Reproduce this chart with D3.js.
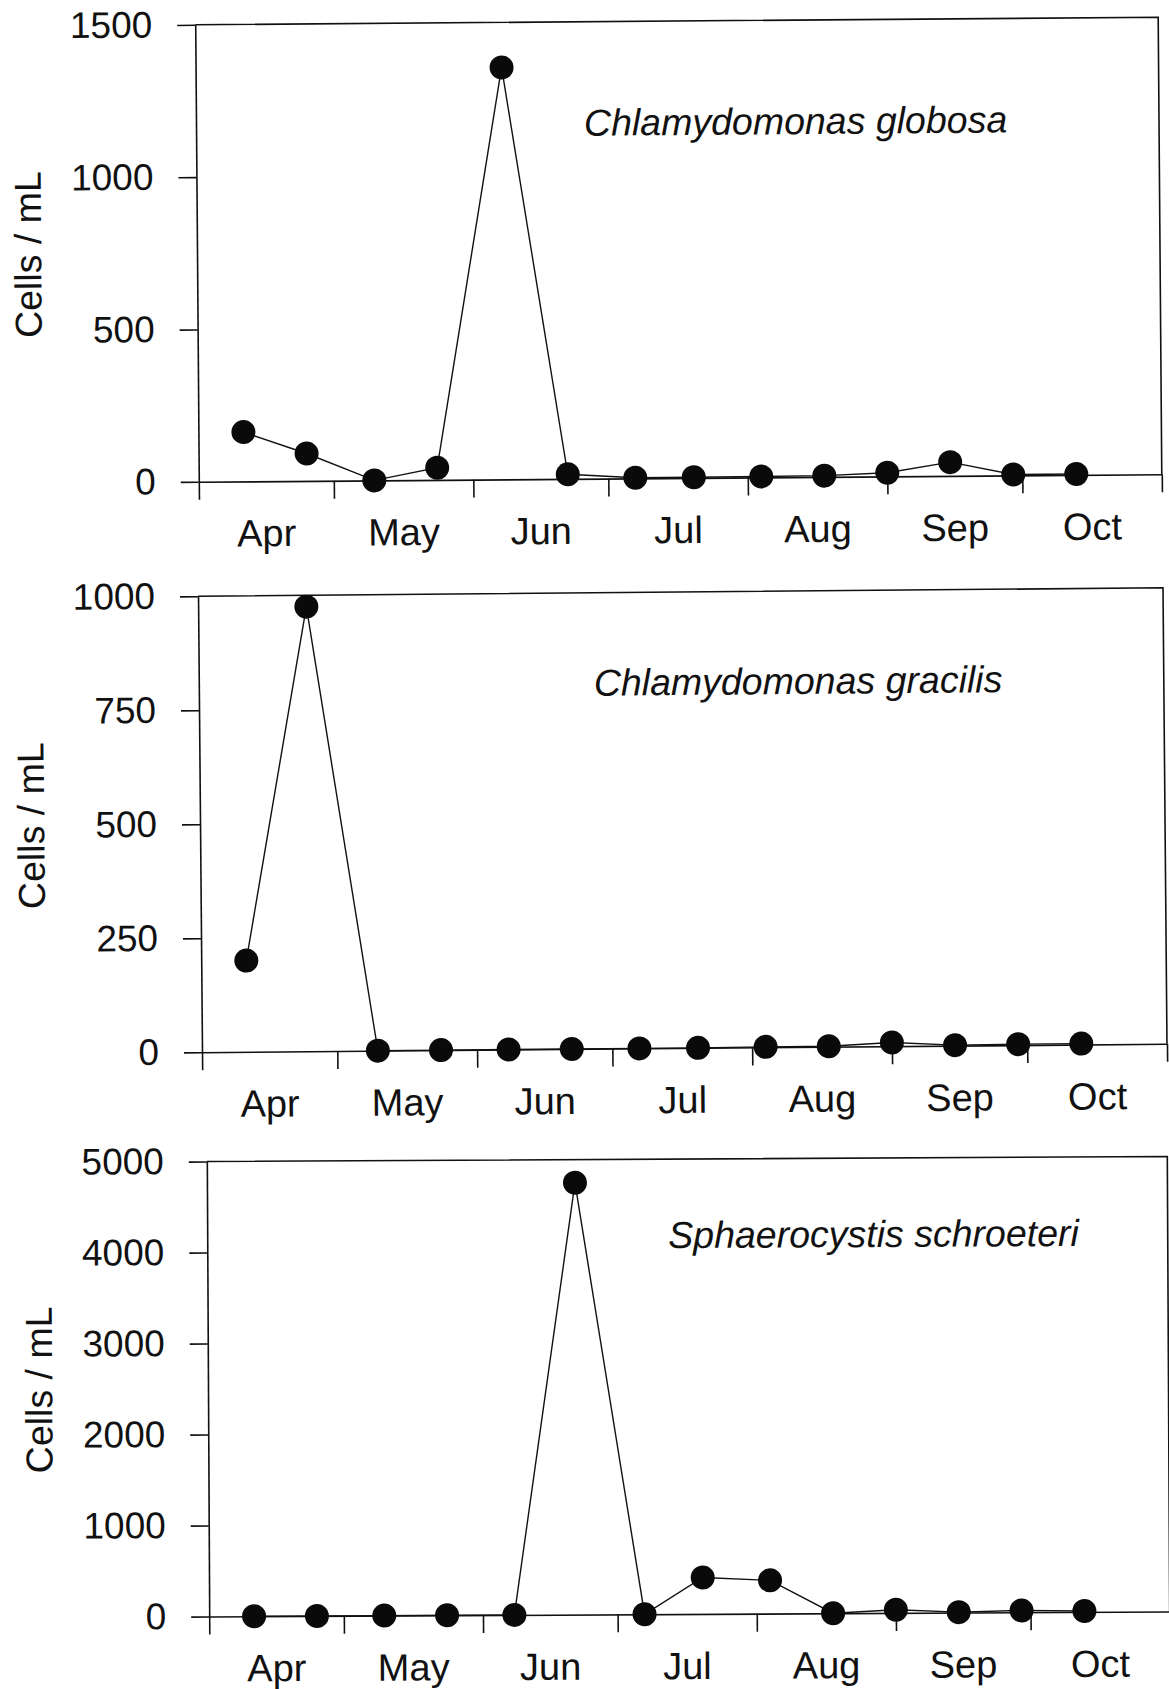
<!DOCTYPE html>
<html>
<head>
<meta charset="utf-8">
<script src="https://cdn.jsdelivr.net/npm/d3@7"></script>
<style>
  body { margin: 0; background: #fff; }
  svg text { font-family: "Liberation Sans", Arial, sans-serif; fill: #111; }
</style>
</head>
<body>
<svg id="chart" width="1169" height="1689"></svg>
<script>
// biweekly sampling dates, same for all three species
var sampleDates = ["2000-04-11", "2000-04-25", "2000-05-10", "2000-05-24", "2000-06-08", "2000-06-22", "2000-07-07",
                   "2000-07-20", "2000-08-04", "2000-08-18", "2000-09-01", "2000-09-15", "2000-09-29", "2000-10-13"];
var monthStarts = ["2000-04-01", "2000-05-01", "2000-06-01", "2000-07-01", "2000-08-01", "2000-09-01", "2000-10-01", "2000-11-01"];
var monthNames = ["Apr", "May", "Jun", "Jul", "Aug", "Sep", "Oct"];

// cells / mL
var globosa    = [162, 90, 0, 40, 1352, 15, 2, 2, 3, 4, 12, 45, 3, 3];
var gracilis   = [200, 975, 0, 0, 0, 0, 0, 0, 1, 1, 8, 1, 2, 2];
var schroeteri = [0, 0, 0, 0, 0, 4745, 0, 400, 365, 0, 35, 5, 20, 10];

var globosaTicks    = [0, 500, 1000, 1500];
var gracilisTicks   = [0, 250, 500, 750, 1000];
var schroeteriTicks = [0, 1000, 2000, 3000, 4000, 5000];

var speciesNames = ["Chlamydomonas globosa", "Chlamydomonas gracilis", "Sphaerocystis schroeteri"];
var yTitle = "Cells / mL";

var parse = d3.timeParse("%Y-%m-%d");
var dates = sampleDates.map(parse);
var months = monthStarts.map(parse);

// panel placement on the page (scan is slightly tilted, hence the angle)
var panels = [
    {name: speciesNames[0], values: globosa, ticks: globosaTicks,
     left: 197, right: 1160, top: 21, zero: 478, labelX: 585, labelY: 135, angle: -0.45},
    {name: speciesNames[1], values: gracilis, ticks: gracilisTicks,
     left: 200, right: 1165, top: 592, zero: 1048, labelX: 595, labelY: 695, angle: -0.5},
    {name: speciesNames[2], values: schroeteri, ticks: schroeteriTicks,
     left: 208, right: 1168.5, top: 1159, zero: 1614, labelX: 669, labelY: 1248, angle: -0.3}
];

var svg = d3.select("#chart");
var NUM = 37, LAB = 38, TITLE = 37.5, TICK = 18;

panels.forEach(function (p) {
    var cx = (p.left + p.right) / 2, cy = (p.top + p.zero) / 2;
    var g = svg.append("g").attr("transform", "rotate(" + p.angle + "," + cx + "," + cy + ")");

    var x = d3.scaleTime().domain([months[0], months[months.length - 1]]).range([p.left, p.right]);
    var y = d3.scaleLinear().domain([0, d3.max(p.ticks)]).range([p.zero, p.top]);

    // frame: top and right edges
    g.append("path")
        .attr("d", "M" + p.left + "," + p.top + "H" + p.right + "V" + p.zero)
        .attr("fill", "none").attr("stroke", "#111").attr("stroke-width", 1.6);

    // y axis
    var ya = g.append("g").attr("transform", "translate(" + p.left + ",0)")
        .call(d3.axisLeft(y).tickValues(p.ticks).tickFormat(d3.format("d"))
            .tickSize(TICK).tickSizeOuter(0).tickPadding(25));
    // x axis: month boundary ticks
    var xa = g.append("g").attr("transform", "translate(0," + p.zero + ")")
        .call(d3.axisBottom(x).tickValues(months).tickSize(TICK).tickSizeOuter(0).tickFormat(""));
    [ya, xa].forEach(function (a) {
        a.selectAll("path, line").attr("stroke", "#111").attr("stroke-width", 1.6);
        a.selectAll("text").attr("font-size", NUM).attr("font-family", null).attr("fill", "#111");
    });

    // month names centred in each month
    g.selectAll(".month").data(monthNames).enter().append("text")
        .attr("class", "month")
        .attr("x", function (d, i) { return (x(months[i]) + x(months[i + 1])) / 2; })
        .attr("y", p.zero + 65)
        .attr("text-anchor", "middle")
        .attr("font-size", LAB)
        .text(function (d) { return d; });

    // axis title
    g.append("text")
        .attr("transform", "translate(" + (p.left - 169) + "," + cy + ") rotate(-90)")
        .attr("text-anchor", "middle")
        .attr("dy", "0.35em")
        .attr("font-size", TITLE)
        .text(yTitle);

    // species name
    g.append("text")
        .attr("x", p.labelX).attr("y", p.labelY)
        .attr("font-size", TITLE).attr("font-style", "italic")
        .text(p.name);

    var pts = p.values.map(function (v, i) { return {date: dates[i], value: v}; });
    var line = d3.line().x(function (d) { return x(d.date); }).y(function (d) { return y(d.value); });

    g.append("path").datum(pts)
        .attr("d", line)
        .attr("fill", "none").attr("stroke", "#111").attr("stroke-width", 1.4);

    g.selectAll(".dot").data(pts).enter().append("circle")
        .attr("class", "dot")
        .attr("cx", function (d) { return x(d.date); })
        .attr("cy", function (d) { return y(d.value); })
        .attr("r", 12)
        .attr("fill", "#0a0a0a");
});
</script>
</body>
</html>
